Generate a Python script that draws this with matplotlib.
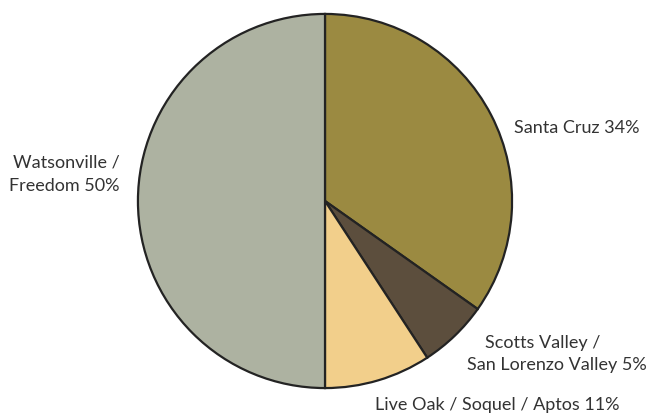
import matplotlib
matplotlib.use("Agg")
import matplotlib.pyplot as plt

# Data (slice sizes; labels as printed)
categories = ["Santa Cruz", "Scotts Valley / San Lorenzo Valley", "Live Oak / Soquel / Aptos", "Watsonville / Freedom"]
values = [34.8, 6.0, 9.2, 50.0]
label_pcts = ["34%", "5%", "11%", "50%"]
colors = ["#9B8A41", "#5C4E3D", "#F2CF8B", "#ADB2A1"]

W, H = 649, 413
fig = plt.figure(figsize=(W / 100, H / 100), dpi=100)
fig.patch.set_facecolor("white")

cx, cy, r = 325, 201, 188
ax = fig.add_axes([(cx - r) / W, (H - cy - r) / H, 2 * r / W, 2 * r / H])
ax.pie(values, colors=colors, startangle=90, counterclock=False, radius=1,
       wedgeprops=dict(edgecolor="#232323", linewidth=1.6, joinstyle="miter"))
ax.set_xlim(-1.005, 1.005)
ax.set_ylim(-1.005, 1.005)
ax.axis("off")

font = dict(family=["Lato", "DejaVu Sans"], fontsize=13, color="#333333")

def px(x, y):
    return x / W, 1 - y / H

fig.text(*px(514, 128), f"{categories[0]} {label_pcts[0]}", ha="left", va="center", **font)
fig.text(*px(66, 162), "Watsonville /", ha="center", va="center", **font)
fig.text(*px(64, 186), f"Freedom {label_pcts[3]}", ha="center", va="center", **font)
fig.text(*px(543, 343), "Scotts Valley /", ha="center", va="center", **font)
fig.text(*px(557, 365), f"San Lorenzo Valley {label_pcts[1]}", ha="center", va="center", **font)
fig.text(*px(497, 405), f"{categories[2]} {label_pcts[2]}", ha="center", va="center", **font)

fig.savefig("out.png", dpi=100)
